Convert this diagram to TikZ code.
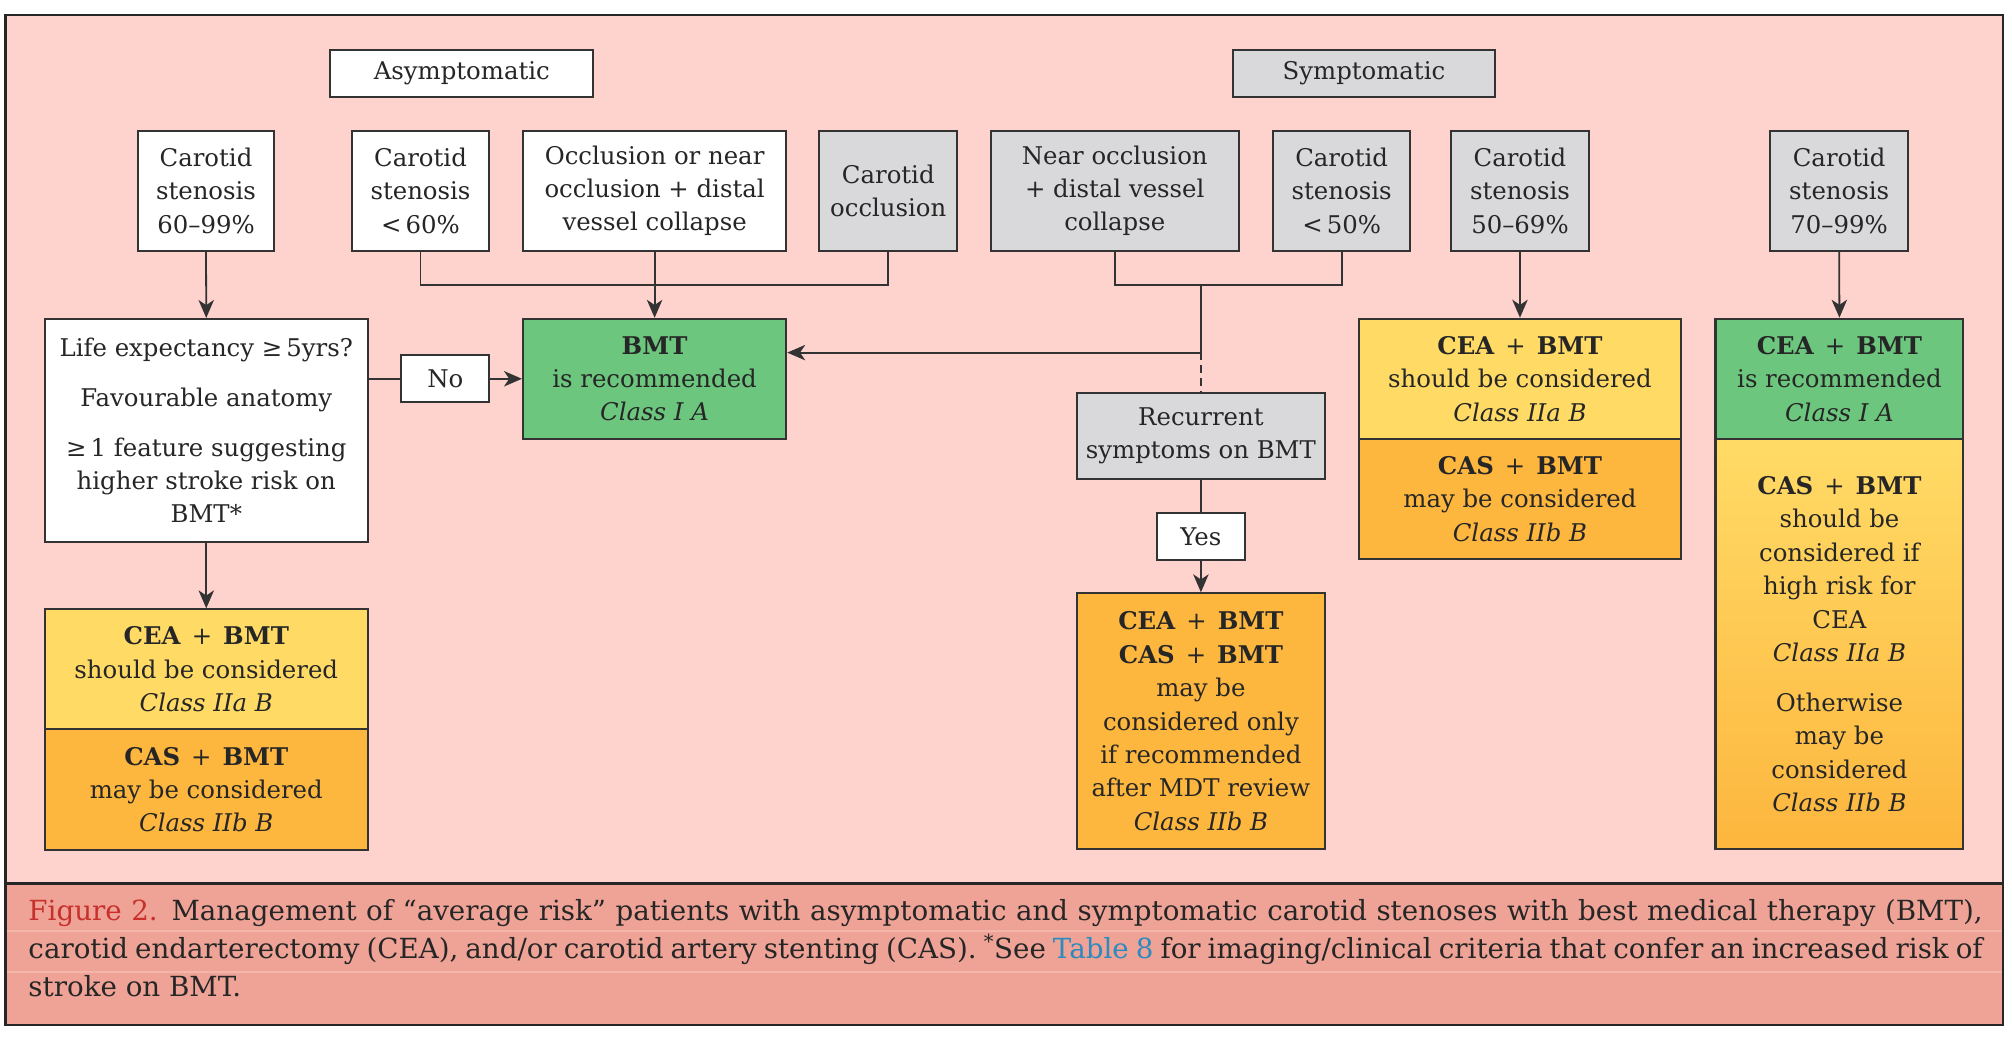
\documentclass[tikz,border=0pt]{standalone}
\usepackage{fontspec}
\setmainfont{DejaVu Serif}
\usetikzlibrary{arrows.meta}
\definecolor{bgpink}{HTML}{FFD3CD}
\definecolor{capbg}{HTML}{EEA396}
\definecolor{caplinec}{HTML}{F4B5AA}
\definecolor{gboxc}{HTML}{D9D9DB}
\definecolor{greenc}{HTML}{6CC67E}
\definecolor{yelc}{HTML}{FFDB66}
\definecolor{orc}{HTML}{FDB63E}
\definecolor{linec}{HTML}{333333}
\definecolor{txtc}{HTML}{262626}
\definecolor{figred}{HTML}{C8302C}
\definecolor{tabblue}{HTML}{2B8ABF}
\newcommand{\boxfont}{\fontsize{19}{26}\selectfont}
\newcommand{\capfont}{\fontsize{21.6}{29}\selectfont}
\newcommand{\pls}{\hspace{0.45em}+\hspace{0.45em}}
\newcommand{\bxnode}[7][]{\node[bx,#1,minimum width={(#5-#3)*1pt},minimum height={(#6-#4)*1pt}] (#2) at ({(#3+#5)/2},{(#4+#6)/2}) {#7};}
\tikzset{
  bx/.style={draw=linec, line width=1.6pt, inner sep=0pt, align=center, text=txtc, font=\boxfont},
  conn/.style={draw=linec, line width=1.4pt},
  arr/.style={conn, -{Stealth[length=14pt,width=12pt,inset=4pt]}},
  dashconn/.style={conn, dash pattern=on 6pt off 4pt}
}
\begin{document}
\begin{tikzpicture}[x=1pt,y=-1pt]
\useasboundingbox (0,0) rectangle (1568,807.4);
\fill[white] (0,0) rectangle (1568,807.4);
% frame and caption band
\fill[bgpink] (4.2,11.7) rectangle (1560.7,688.4);
\fill[capbg] (4.2,688.4) rectangle (1560.7,798.8);
\draw[caplinec, line width=1pt] (5,725.6) -- (1560,725.6);
\draw[caplinec, line width=1pt] (5,757.6) -- (1560,757.6);
\draw[black!85, line width=1.8pt] (4.2,11.7) rectangle (1560.7,798.8);
\draw[black!85, line width=2.2pt] (4.2,688.4) -- (1560.7,688.4);

% headers
\bxnode[fill=white]{asym}{257.5}{39}{462.3}{75.6}{Asymptomatic}
\bxnode[fill=gboxc]{symp}{960.6}{39}{1165.3}{75.6}{Symptomatic}

% second row
\bxnode[fill=white]{a1}{107.2}{102}{213.9}{195.5}{Carotid\\stenosis\\60–99\%}
\bxnode[fill=white]{a2}{274.1}{102}{381.3}{195.5}{Carotid\\stenosis\\<\,60\%}
\bxnode[fill=white]{a3}{407.6}{102}{612.7}{195.5}{Occlusion or near\\occlusion + distal\\vessel collapse}
\bxnode[fill=gboxc]{a4}{638.6}{102}{745.9}{195.5}{Carotid\\occlusion}
\bxnode[fill=gboxc]{s1}{772.1}{102}{965.4}{195.5}{Near occlusion\\+ distal vessel\\collapse}
\bxnode[fill=gboxc]{s2}{992}{102}{1099.1}{195.5}{Carotid\\stenosis\\<\,50\%}
\bxnode[fill=gboxc]{s3}{1130.9}{102}{1238.2}{195.5}{Carotid\\stenosis\\50–69\%}
\bxnode[fill=gboxc]{s4}{1379.7}{102}{1486.9}{195.5}{Carotid\\stenosis\\70–99\%}

% middle row
\bxnode[fill=white]{life}{34.8}{248.6}{286.7}{422.1}{Life expectancy ≥\,5yrs?\\[13pt]Favourable anatomy\\[13pt]≥\,1 feature suggesting\\higher stroke risk on\\BMT*}
\bxnode[fill=white]{no}{312.7}{276.9}{381.3}{313.5}{No}
\bxnode[fill=greenc]{bmt}{407.6}{248.5}{612.7}{342}{\textbf{BMT}\\is recommended\\\textit{Class I A}}
\bxnode[fill=gboxc]{rec}{839.2}{306}{1032.6}{373}{Recurrent\\symptoms on BMT}
\bxnode[fill=white]{yes}{901.4}{399.5}{970.4}{436.4}{Yes}
\bxnode[fill=orc]{mid}{839.2}{462.4}{1032.6}{661.7}{\textbf{CEA}\pls\textbf{BMT}\\\textbf{CAS}\pls\textbf{BMT}\\may be\\considered only\\if recommended\\after MDT review\\\textit{Class IIb B}}

% left results
\bxnode[fill=yelc]{ly}{34.8}{474.9}{286.7}{568.4}{\textbf{CEA}\pls\textbf{BMT}\\should be considered\\\textit{Class IIa B}}
\bxnode[fill=orc]{lo}{34.8}{568.4}{286.7}{662.4}{\textbf{CAS}\pls\textbf{BMT}\\may be considered\\\textit{Class IIb B}}

% symptomatic 50-69 results
\bxnode[fill=yelc]{s3y}{1059}{248.4}{1310.1}{342}{\textbf{CEA}\pls\textbf{BMT}\\should be considered\\\textit{Class IIa B}}
\bxnode[fill=orc]{s3o}{1059}{342}{1310.1}{435.4}{\textbf{CAS}\pls\textbf{BMT}\\may be considered\\\textit{Class IIb B}}

% symptomatic 70-99 results
\bxnode[fill=greenc]{s4g}{1336.9}{248.4}{1530.1}{342}{\textbf{CEA}\pls\textbf{BMT}\\is recommended\\\textit{Class I A}}
\bxnode[top color=yelc, bottom color=orc]{s4o}{1336.9}{342}{1530.1}{662}{\textbf{CAS}\pls\textbf{BMT}\\should be\\considered if\\high risk for\\CEA\\\textit{Class IIa B}\\[13pt]Otherwise\\may be\\considered\\\textit{Class IIb B}}

% connectors
\draw[arr] (a1.south) -- (life.north);
\draw[arr] (life.south) -- (ly.north);
\coordinate (jA) at (510.15,222.1);
\draw[conn] (a2.south) |- (jA) -| (a4.south);
\draw[arr] (a3.south) -- (bmt.north);
\draw[conn] (life.east |- no.west) -- (no.west);
\draw[arr] (no.east) -- (bmt.west |- no.east);
\coordinate (jS) at (935.9,222.1);
\coordinate (kS) at (935.9,274.8);
\draw[conn] (s1.south) |- (jS) -| (s2.south);
\draw[conn] (jS) -- (kS);
\draw[arr] (kS) -- (bmt.east |- kS);
\draw[dashconn] (kS) -- (rec.north);
\draw[conn] (rec.south) -- (yes.north);
\draw[arr] (yes.south) -- (mid.north);
\draw[arr] (s3.south) -- (s3y.north);
\draw[arr] (s4.south) -- (s4g.north);

% caption
\node[anchor=base west, inner sep=0pt, font=\capfont, text=txtc] (cap1) at (22,717.5) {\hbox to 1523pt{\textcolor{figred}{Figure 2.} Management of “average risk” patients with asymptomatic and symptomatic carotid stenoses with best medical therapy (BMT),}};
\node[anchor=base west, inner sep=0pt, font=\capfont, text=txtc] (cap2) at (22,747) {\hbox to 1523pt{carotid endarterectomy (CEA), and/or carotid artery stenting (CAS). \textsuperscript{*}See \textcolor{tabblue}{Table 8} for imaging/clinical criteria that confer an increased risk of}};
\node[anchor=base west, inner sep=0pt, font=\capfont, text=txtc] (cap3) at (22,776.5) {stroke on BMT.};
\end{tikzpicture}
\end{document}
